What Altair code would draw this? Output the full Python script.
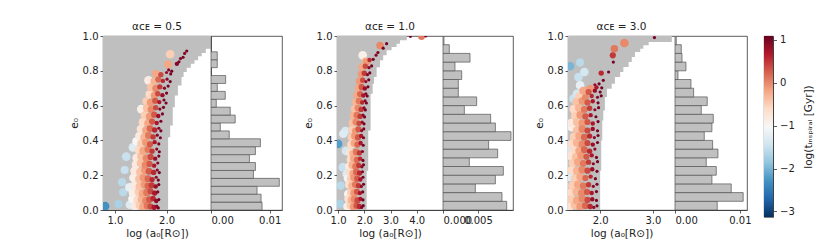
import altair as alt
import pandas as pd

FONT = "DejaVu Sans"
INK = "#222222"
GREY_FILL = "#bfbfbf"
RDBU_R = ["#053061", "#2166ac", "#4393c3", "#92c5de", "#d1e5f0", "#f7f7f7",
          "#fddbc7", "#f4a582", "#d6604d", "#b2182b", "#67001f"]
VMIN, VMAX = -3.13, 1.09

TITLES = ["\u03b1\u1d04\u1d07 = 0.5", "\u03b1\u1d04\u1d07 = 1.0", "\u03b1\u1d04\u1d07 = 3.0"]
XTITLE = "log (a\u2080[R\u2299])"
YTITLE = "e\u2080"
CBTITLE = "log(t\u1d62\u2099\u209b\u209a\u1d62\u1d63\u2090\u2097 [Gyr])"

# x-axis domains / ticks of the scatter panels (log a0)
X_DOMAINS = [[0.77, 2.86], [0.96, 5.0], [1.39, 3.42]]
X_TICKS = [[1.0, 2.0], [1.0, 2.0, 3.0, 4.0], [2.0, 3.0]]
Y_TICKS = [0.0, 0.2, 0.4, 0.6, 0.8, 1.0]
CB_TICKS = [-3, -2, -1, 0, 1]

# points: (log a0, e0, log t_inspiral, marker-size class)
P1 = [
    (0.81, 0.022, -2.3, 9), (1.07, 0.034, -1.7, 8), (1.29, 0.030, -1.3, 9), (1.39, 0.020, -0.8, 9),
    (1.48, 0.028, -0.5, 8), (1.55, 0.018, -0.2, 8), (1.63, 0.025, 0.1, 7), (1.69, 0.020, 0.4, 5),
    (1.76, 0.015, 0.7, 4), (1.81, 0.022, 0.9, 2), (1.84, 0.012, 1.0, 2),
    (1.34, 0.065, -1.0, 9), (1.44, 0.058, -0.6, 9), (1.52, 0.062, -0.3, 8), (1.60, 0.055, 0.0, 7),
    (1.67, 0.060, 0.3, 6), (1.74, 0.066, 0.6, 4), (1.80, 0.052, 0.85, 3), (1.85, 0.060, 1.0, 2),
    (1.16, 0.102, -1.6, 8), (1.35, 0.098, -0.9, 9), (1.46, 0.105, -0.5, 8), (1.54, 0.095, -0.2, 8),
    (1.62, 0.100, 0.1, 7), (1.69, 0.108, 0.4, 5), (1.77, 0.097, 0.7, 4), (1.83, 0.104, 0.95, 2),
    (1.28, 0.130, -1.2, 9), (1.38, 0.140, -0.8, 9), (1.48, 0.135, -0.4, 8), (1.57, 0.145, -0.1, 7),
    (1.64, 0.138, 0.2, 6), (1.71, 0.142, 0.5, 5), (1.79, 0.135, 0.8, 3), (1.85, 0.146, 1.0, 2),
    (1.14, 0.160, -1.6, 8), (1.36, 0.185, -0.9, 9), (1.47, 0.178, -0.4, 8), (1.55, 0.186, -0.1, 7),
    (1.64, 0.180, 0.2, 6), (1.72, 0.175, 0.6, 4), (1.80, 0.188, 0.9, 2), (1.84, 0.172, 1.0, 2),
    (1.19, 0.230, -1.5, 8), (1.38, 0.225, -0.8, 9), (1.49, 0.218, -0.4, 8), (1.58, 0.228, -0.1, 7),
    (1.66, 0.222, 0.3, 6), (1.75, 0.216, 0.6, 4), (1.82, 0.230, 0.9, 2), (1.86, 0.215, 1.0, 2),
    (1.41, 0.262, -0.8, 9), (1.50, 0.268, -0.4, 8), (1.59, 0.258, 0.0, 7), (1.67, 0.265, 0.3, 5),
    (1.76, 0.255, 0.7, 3), (1.83, 0.270, 0.9, 2),
    (1.22, 0.307, -1.5, 9), (1.42, 0.300, -0.8, 9), (1.51, 0.308, -0.4, 8), (1.61, 0.298, 0.0, 7),
    (1.69, 0.305, 0.4, 5), (1.78, 0.295, 0.8, 3), (1.85, 0.310, 1.0, 2),
    (1.35, 0.360, -1.3, 9), (1.46, 0.345, -0.6, 8), (1.55, 0.340, -0.2, 8), (1.64, 0.348, 0.1, 6),
    (1.72, 0.338, 0.5, 4), (1.81, 0.350, 0.9, 2), (1.86, 0.335, 1.0, 2),
    (1.42, 0.395, -1.0, 9), (1.51, 0.382, -0.5, 8), (1.60, 0.388, -0.1, 7), (1.68, 0.378, 0.3, 5),
    (1.77, 0.390, 0.7, 3), (1.85, 0.380, 1.0, 2),
    (1.47, 0.425, -0.8, 8), (1.57, 0.418, -0.3, 8), (1.65, 0.428, 0.1, 6), (1.74, 0.420, 0.5, 4),
    (1.82, 0.430, 0.9, 2), (1.88, 0.415, 1.0, 2),
    (1.50, 0.465, -0.7, 8), (1.60, 0.458, -0.2, 7), (1.68, 0.468, 0.2, 6), (1.77, 0.460, 0.6, 4),
    (1.85, 0.470, 0.9, 2), (1.89, 0.455, 1.0, 2),
    (1.54, 0.505, -0.6, 8), (1.64, 0.498, -0.2, 7), (1.72, 0.508, 0.3, 5), (1.81, 0.500, 0.7, 3),
    (1.89, 0.510, 1.0, 2),
    (1.58, 0.545, -0.5, 8), (1.67, 0.538, -0.1, 7), (1.76, 0.548, 0.3, 5), (1.84, 0.540, 0.8, 3),
    (1.92, 0.552, 1.0, 2),
    (1.51, 0.580, -0.9, 9), (1.62, 0.585, -0.4, 8), (1.70, 0.578, 0.0, 6), (1.79, 0.588, 0.4, 4),
    (1.87, 0.580, 0.9, 2), (1.94, 0.590, 1.0, 2),
    (1.61, 0.625, -0.5, 8), (1.69, 0.618, -0.1, 7), (1.78, 0.628, 0.3, 5), (1.86, 0.620, 0.7, 3),
    (1.95, 0.632, 1.0, 2), (1.99, 0.615, 1.0, 2),
    (1.67, 0.665, -0.6, 8), (1.76, 0.658, -0.1, 6), (1.83, 0.668, 0.4, 4), (1.92, 0.660, 0.8, 3),
    (2.00, 0.672, 1.0, 2),
    (1.70, 0.705, -0.4, 8), (1.79, 0.698, 0.0, 6), (1.87, 0.708, 0.5, 4), (1.96, 0.700, 0.9, 2),
    (2.03, 0.712, 1.0, 2),
    (1.65, 0.745, -0.85, 9), (1.76, 0.740, -0.3, 7), (1.84, 0.750, 0.2, 5), (1.93, 0.742, 0.6, 3),
    (2.01, 0.752, 0.9, 2), (2.07, 0.738, 1.0, 2),
    (1.79, 0.785, -0.2, 7), (1.89, 0.778, 0.4, 4), (2.00, 0.790, 0.8, 2), (2.08, 0.782, 1.0, 2),
    (2.04, 0.805, 0.9, 2), (2.10, 0.798, 1.0, 2),
    (2.03, 0.837, -0.2, 8), (2.20, 0.840, 0.9, 3), (2.24, 0.852, 1.0, 2), (2.27, 0.870, 0.9, 2),
    (2.32, 0.878, 1.0, 2), (2.07, 0.895, -0.5, 9), (2.35, 0.900, 0.9, 2), (2.39, 0.914, 1.0, 2),
]

P2 = [
    (1.07, 0.035, -1.7, 8), (1.36, 0.020, -0.9, 9), (1.48, 0.028, -0.5, 8), (1.59, 0.018, -0.1, 7),
    (1.70, 0.025, 0.3, 5), (1.81, 0.020, 0.6, 4), (1.90, 0.015, 0.9, 2), (1.96, 0.025, 1.0, 2),
    (1.40, 0.065, -0.7, 9), (1.52, 0.058, -0.3, 8), (1.63, 0.062, 0.0, 7), (1.74, 0.055, 0.4, 5),
    (1.85, 0.064, 0.7, 3), (1.95, 0.058, 1.0, 2),
    (1.39, 0.092, -1.0, 9), (1.50, 0.102, -0.5, 8), (1.61, 0.098, -0.1, 7), (1.72, 0.105, 0.3, 5),
    (1.83, 0.097, 0.7, 3), (1.94, 0.104, 1.0, 2),
    (1.10, 0.140, -1.6, 8), (1.42, 0.145, -0.7, 8), (1.54, 0.138, -0.3, 8), (1.66, 0.146, 0.1, 6),
    (1.78, 0.140, 0.5, 4), (1.89, 0.135, 0.9, 2), (1.97, 0.148, 1.0, 2),
    (1.38, 0.182, -1.1, 9), (1.49, 0.178, -0.5, 8), (1.61, 0.186, -0.1, 7), (1.73, 0.180, 0.3, 5),
    (1.85, 0.175, 0.7, 3), (1.95, 0.188, 1.0, 2),
    (1.33, 0.207, -1.3, 9), (1.46, 0.215, -0.6, 8), (1.58, 0.210, -0.2, 7), (1.70, 0.218, 0.2, 6),
    (1.82, 0.212, 0.6, 4), (1.93, 0.220, 0.9, 2),
    (1.18, 0.246, -1.5, 9), (1.42, 0.250, -0.8, 8), (1.55, 0.258, -0.3, 8), (1.67, 0.250, 0.1, 6),
    (1.79, 0.256, 0.5, 4), (1.91, 0.248, 0.9, 2), (1.97, 0.260, 1.0, 2),
    (1.48, 0.290, -0.6, 8), (1.60, 0.296, -0.2, 7), (1.72, 0.288, 0.2, 5), (1.84, 0.295, 0.6, 3),
    (1.95, 0.285, 1.0, 2),
    (1.30, 0.340, -1.4, 9), (1.45, 0.330, -0.7, 8), (1.57, 0.325, -0.3, 7), (1.69, 0.334, 0.1, 6),
    (1.81, 0.328, 0.5, 4), (1.93, 0.336, 0.9, 2),
    (1.00, 0.380, -2.2, 9), (1.50, 0.375, -0.6, 8), (1.62, 0.383, -0.2, 7), (1.74, 0.376, 0.2, 5),
    (1.86, 0.385, 0.7, 3), (1.96, 0.372, 1.0, 2),
    (1.20, 0.438, -1.3, 9), (1.52, 0.418, -0.5, 8), (1.64, 0.425, -0.1, 7), (1.76, 0.417, 0.3, 5),
    (1.88, 0.426, 0.7, 3), (1.97, 0.415, 1.0, 2),
    (1.28, 0.455, -1.4, 8), (1.54, 0.462, -0.5, 8), (1.66, 0.455, -0.1, 6), (1.78, 0.464, 0.3, 5),
    (1.90, 0.456, 0.8, 2), (1.98, 0.466, 1.0, 2),
    (1.56, 0.500, -0.4, 8), (1.68, 0.506, 0.0, 6), (1.80, 0.498, 0.4, 4), (1.92, 0.505, 0.8, 2),
    (1.99, 0.495, 1.0, 2),
    (1.60, 0.540, -0.3, 8), (1.72, 0.545, 0.1, 6), (1.84, 0.538, 0.5, 4), (1.95, 0.546, 0.9, 2),
    (2.01, 0.535, 1.0, 2),
    (1.64, 0.580, -0.4, 8), (1.76, 0.585, 0.0, 6), (1.88, 0.578, 0.5, 4), (1.99, 0.587, 0.9, 2),
    (2.04, 0.575, 1.0, 2),
    (1.68, 0.620, -0.3, 7), (1.80, 0.626, 0.1, 6), (1.92, 0.618, 0.6, 3), (2.03, 0.628, 0.9, 2),
    (2.08, 0.615, 1.0, 2),
    (1.72, 0.660, -0.2, 7), (1.84, 0.666, 0.2, 5), (1.96, 0.658, 0.7, 3), (2.06, 0.668, 0.9, 2),
    (2.11, 0.655, 1.0, 2),
    (1.78, 0.700, -0.2, 7), (1.90, 0.706, 0.3, 5), (2.02, 0.698, 0.8, 3), (2.14, 0.708, 1.0, 2),
    (1.82, 0.740, -0.1, 7), (1.94, 0.746, 0.4, 4), (2.06, 0.738, 0.8, 2), (2.17, 0.748, 1.0, 2),
    (1.88, 0.780, -0.1, 6), (2.00, 0.786, 0.5, 4), (2.12, 0.778, 0.9, 2), (2.21, 0.788, 1.0, 2),
    (1.91, 0.820, -0.2, 7), (2.04, 0.826, 0.4, 4), (2.18, 0.818, 0.9, 2), (2.28, 0.828, 1.0, 2),
    (2.05, 0.855, -0.3, 7), (2.20, 0.862, 0.6, 3), (2.34, 0.866, 1.0, 2),
    (1.94, 0.889, -0.9, 9), (2.09, 0.850, -0.1, 7), (2.45, 0.890, 0.9, 2), (2.52, 0.905, 1.0, 2),
    (2.60, 0.946, 0.0, 7), (2.72, 0.930, 1.0, 2), (2.85, 0.956, 1.0, 2),
    (3.76, 0.998, 1.0, 2), (4.18, 0.997, 0.1, 6), (4.34, 1.000, 1.0, 2),
]

P3 = [
    (1.42, 0.020, -0.7, 9), (1.52, 0.028, -0.4, 8), (1.62, 0.018, -0.1, 7), (1.72, 0.025, 0.2, 6),
    (1.81, 0.020, 0.6, 4), (1.88, 0.015, 0.85, 2), (1.94, 0.024, 1.0, 2),
    (1.46, 0.060, -0.5, 9), (1.56, 0.055, -0.2, 8), (1.66, 0.064, 0.0, 7), (1.76, 0.058, 0.4, 5),
    (1.85, 0.062, 0.8, 3), (1.93, 0.055, 1.0, 2),
    (1.44, 0.100, -0.6, 9), (1.55, 0.105, -0.3, 8), (1.65, 0.097, 0.0, 7), (1.75, 0.104, 0.3, 5),
    (1.84, 0.098, 0.7, 3), (1.93, 0.106, 1.0, 2),
    (1.47, 0.140, -0.5, 8), (1.58, 0.146, -0.2, 8), (1.68, 0.138, 0.1, 6), (1.78, 0.145, 0.5, 4),
    (1.87, 0.136, 0.9, 2), (1.94, 0.148, 1.0, 2),
    (1.43, 0.188, -1.3, 8), (1.52, 0.182, -0.5, 8), (1.62, 0.190, -0.2, 7), (1.72, 0.184, 0.2, 5),
    (1.82, 0.192, 0.6, 3), (1.91, 0.180, 1.0, 2),
    (1.46, 0.230, -0.6, 9), (1.56, 0.225, -0.3, 8), (1.66, 0.232, 0.0, 7), (1.76, 0.226, 0.4, 5),
    (1.85, 0.234, 0.8, 3), (1.94, 0.222, 1.0, 2),
    (1.48, 0.270, -0.5, 8), (1.58, 0.276, -0.2, 8), (1.68, 0.268, 0.1, 6), (1.78, 0.275, 0.5, 4),
    (1.87, 0.266, 0.9, 2), (1.95, 0.278, 1.0, 2),
    (1.44, 0.310, -0.7, 9), (1.54, 0.305, -0.4, 8), (1.64, 0.312, -0.1, 7), (1.74, 0.306, 0.3, 5),
    (1.84, 0.314, 0.7, 3), (1.93, 0.302, 1.0, 2),
    (1.41, 0.342, -1.4, 8), (1.50, 0.348, -0.6, 8), (1.60, 0.340, -0.2, 7), (1.70, 0.346, 0.2, 6),
    (1.80, 0.338, 0.6, 4), (1.90, 0.350, 0.9, 2),
    (1.46, 0.380, -0.6, 9), (1.56, 0.386, -0.3, 8), (1.66, 0.378, 0.0, 7), (1.76, 0.385, 0.4, 5),
    (1.86, 0.376, 0.8, 3), (1.95, 0.388, 1.0, 2),
    (1.50, 0.420, -0.5, 8), (1.60, 0.426, -0.2, 7), (1.70, 0.418, 0.2, 6), (1.80, 0.425, 0.6, 4),
    (1.89, 0.416, 0.9, 2), (1.96, 0.428, 1.0, 2),
    (1.46, 0.476, -0.9, 9), (1.56, 0.458, -0.4, 8), (1.66, 0.465, 0.0, 7), (1.76, 0.457, 0.4, 5),
    (1.86, 0.466, 0.8, 3), (1.95, 0.455, 1.0, 2),
    (1.45, 0.500, -0.8, 9), (1.56, 0.505, -0.4, 8), (1.66, 0.498, -0.1, 7), (1.76, 0.506, 0.3, 5),
    (1.86, 0.497, 0.7, 3), (1.96, 0.508, 1.0, 2),
    (1.52, 0.540, -0.5, 8), (1.62, 0.546, -0.1, 7), (1.72, 0.538, 0.3, 5), (1.82, 0.545, 0.7, 3),
    (1.92, 0.536, 1.0, 2),
    (1.50, 0.580, -0.6, 9), (1.60, 0.586, -0.3, 8), (1.70, 0.578, 0.1, 6), (1.80, 0.585, 0.5, 4),
    (1.90, 0.576, 0.9, 2), (1.97, 0.588, 1.0, 2),
    (1.55, 0.620, -0.4, 8), (1.66, 0.626, -0.1, 7), (1.76, 0.618, 0.3, 5), (1.86, 0.625, 0.7, 3),
    (1.96, 0.616, 1.0, 2),
    (1.49, 0.640, -1.5, 8), (1.60, 0.652, -0.5, 8), (1.72, 0.646, 0.0, 6), (1.84, 0.655, 0.6, 3),
    (1.95, 0.648, 0.9, 2), (2.02, 0.656, 1.0, 2),
    (1.56, 0.668, -1.4, 9), (1.68, 0.685, -0.2, 8), (1.78, 0.678, 0.3, 5), (1.90, 0.686, 0.8, 3),
    (2.00, 0.678, 1.0, 2),
    (1.81, 0.697, -0.1, 7), (1.93, 0.705, 0.7, 3), (2.03, 0.702, 1.0, 2),
    (1.62, 0.716, -1.2, 9), (1.90, 0.720, 0.8, 2), (1.98, 0.725, 1.0, 2),
    (2.06, 0.745, 1.0, 2), (1.59, 0.764, -1.5, 9), (1.70, 0.793, -1.4, 9), (2.02, 0.787, 0.6, 4),
    (2.16, 0.793, 1.0, 2), (1.43, 0.826, -2.0, 9), (1.62, 0.847, -1.6, 8), (2.25, 0.850, 1.0, 2),
    (2.24, 0.889, 0.5, 5), (2.27, 0.927, 0.1, 7), (2.46, 0.960, 0.0, 9), (3.03, 0.991, 1.0, 2),
]

# grey allowed-region staircase: e-edges and the log a0 reached in each e-band
G1_E = [0.0, 0.418, 0.486, 0.591, 0.658, 0.716, 0.764, 0.793, 0.818, 0.841, 0.860, 0.883, 0.902, 0.927, 0.946, 1.0]
G1_X = [1.94, 2.03, 2.07, 2.12, 2.16, 2.22, 2.29, 2.33, 2.39, 2.47, 2.54, 2.61, 2.68, 2.76, 2.87]
G2_E = [0.0, 0.226, 0.457, 0.668, 0.726, 0.764, 0.821, 0.860, 0.889, 0.918, 0.937, 0.956, 0.975, 0.985, 1.0]
G2_X = [1.99, 2.09, 2.15, 2.24, 2.32, 2.37, 2.47, 2.60, 2.72, 2.85, 3.04, 3.23, 3.36, 3.62]
G3_E = [0.0, 0.226, 0.399, 0.515, 0.572, 0.649, 0.697, 0.726, 0.764, 0.793, 0.822, 0.851, 0.879, 0.908, 0.927, 0.947, 0.966, 0.979, 1.0]
G3_X = [1.96, 2.00, 2.02, 2.04, 2.06, 2.09, 2.13, 2.22, 2.28, 2.38, 2.44, 2.54, 2.60, 2.66, 2.76, 2.82, 2.92, 3.36]

# e0 histograms (bottom bin first)
H1 = [0.0087, 0.00853, 0.00785, 0.01164, 0.00723, 0.00757, 0.00655, 0.00757, 0.00842, 0.00311, 0.00158,
      0.00412, 0.00328, 0.0009, 0.00243, 0.00107, 0.00249, 0.0, 0.00107, 0.00107, 0.0, 0.0]
H2 = [0.0091, 0.00843, 0.00462, 0.00748, 0.00862, 0.00376, 0.00781, 0.00652, 0.00971, 0.00748,
      0.00681, 0.00305, 0.00481, 0.00219, 0.00219, 0.00267, 0.00171, 0.00386, 0.0009, 0.00014]
H3 = [0.00651, 0.01051, 0.00867, 0.00569, 0.00636, 0.00482, 0.00662, 0.0058, 0.00451, 0.00569,
      0.0059, 0.00405, 0.00497, 0.00287, 0.00246, 0.00046, 0.00169, 0.00108, 0.00097, 0.0002]
H_DOMAINS = [[0, 0.0121], [0, 0.0100], [0, 0.0111]]
H_TICKS = [[0.0, 0.01], [0.0, 0.005], [0.0, 0.01]]
H_FORMATS = [".2f", ".3f", ".2f"]

SC_W = [108, 106, 107]
H_W = [71, 70, 72]
H = 174

ys = alt.Scale(domain=[0, 1], nice=False, zero=False)
cstops = [VMIN + i * (VMAX - VMIN) / 10 for i in range(11)]
cscale = alt.Scale(domain=cstops, range=RDBU_R, clamp=True)


def scatter(points, g_e, g_x, xdom, xticks, title, w):
    pts = pd.DataFrame(points, columns=["loga", "e", "logt", "m"]).sort_values("logt")
    grey = pd.DataFrame({"e": g_e, "xb": g_x + [g_x[-1]]})
    grey["x0"] = xdom[0]
    xs = alt.Scale(domain=xdom, nice=False, zero=False)
    xaxis = alt.Axis(values=xticks, format=".1f", title=XTITLE, labelOverlap=False, grid=False)
    yaxis = alt.Axis(values=Y_TICKS, format=".1f", title=YTITLE, labelOverlap=False, grid=False)
    g = alt.Chart(grey).mark_area(color=GREY_FILL, opacity=1, interpolate="step-before",
                                  orient="horizontal", clip=True).encode(
        x=alt.X("xb:Q", scale=xs, axis=xaxis),
        x2="x0:Q",
        y=alt.Y("e:Q", scale=ys, axis=yaxis, sort=None),
    )
    p = alt.Chart(pts).mark_circle(opacity=1, clip=True).encode(
        x=alt.X("loga:Q", axis=xaxis),
        y=alt.Y("e:Q", axis=yaxis),
        color=alt.Color("logt:Q", scale=cscale, legend=None),
        size=alt.Size("m:Q", scale=alt.Scale(domain=[2, 9], range=[10, 75]), legend=None),
        order=alt.Order("logt:Q"),
    )
    return alt.layer(g, p).properties(
        width=w, height=H,
        title=alt.TitleParams(title, font=FONT, fontSize=10.5, fontWeight="normal", color=INK,
                              offset=-1, frame="group"),
    )


def hist(vals, hdom, hticks, hfmt, w):
    n = len(vals)
    df = pd.DataFrame({"v": vals, "e0": [i / n for i in range(n)], "e1": [(i + 1) / n for i in range(n)]})
    df["z"] = 0.0
    return alt.Chart(df).mark_rect(color="#c0c0c0", stroke="#555555", strokeWidth=0.7, clip=True).encode(
        x=alt.X("z:Q", scale=alt.Scale(domain=hdom, nice=False, zero=False),
                axis=alt.Axis(values=hticks, format=hfmt, title=None, labelOverlap=False, grid=False)),
        x2="v:Q",
        y=alt.Y("e0:Q", scale=ys, axis=None),
        y2="e1:Q",
    ).properties(width=w, height=H)


panels = []
for i, (pts, ge, gx, hv) in enumerate([(P1, G1_E, G1_X, H1), (P2, G2_E, G2_X, H2), (P3, G3_E, G3_X, H3)]):
    panels.append(alt.hconcat(
        scatter(pts, ge, gx, X_DOMAINS[i], X_TICKS[i], TITLES[i], SC_W[i]),
        hist(hv, H_DOMAINS[i], H_TICKS[i], H_FORMATS[i], H_W[i]),
        spacing=0, bounds="flush",
    ))

cb_df = pd.DataFrame({"lo": [VMIN], "hi": [VMAX], "a": [0.0], "b": [1.0]})
grad = alt.LinearGradient(
    gradient="linear",
    stops=[alt.GradientStop(color=c, offset=i / 10) for i, c in enumerate(RDBU_R)],
    x1=0, x2=0, y1=1, y2=0,
)
colorbar = alt.Chart(cb_df).mark_rect(color=grad).encode(
    x=alt.X("a:Q", scale=alt.Scale(domain=[0, 1], nice=False), axis=None),
    x2="b:Q",
    y=alt.Y("lo:Q", scale=alt.Scale(domain=[VMIN, VMAX], nice=False, zero=False),
            axis=alt.Axis(orient="right", values=CB_TICKS, format="d", title=CBTITLE,
                          titleAngle=270, titleBaseline="top", titlePadding=9, labelPadding=3,
                          tickSize=3.5, labelOverlap=False, grid=False)),
    y2="hi:Q",
).properties(width=9, height=181)

chart = alt.hconcat(
    alt.hconcat(*panels, spacing=19),
    colorbar,
    spacing=11,
).properties(
    padding={"left": 60, "top": 13, "right": 0, "bottom": 0},
).configure_view(
    stroke="#333333", strokeWidth=0.8,
).configure_axis(
    labelFont=FONT, titleFont=FONT, labelFontSize=10, titleFontSize=10.5,
    labelColor=INK, titleColor=INK, tickColor="#333333", domainColor="#333333",
    domainWidth=0.8, tickWidth=0.8, grid=False, titleFontWeight="normal",
    tickSize=3, labelPadding=2, titlePadding=3,
)

chart.save("out.html", embed_options={"renderer": "svg", "actions": False})
